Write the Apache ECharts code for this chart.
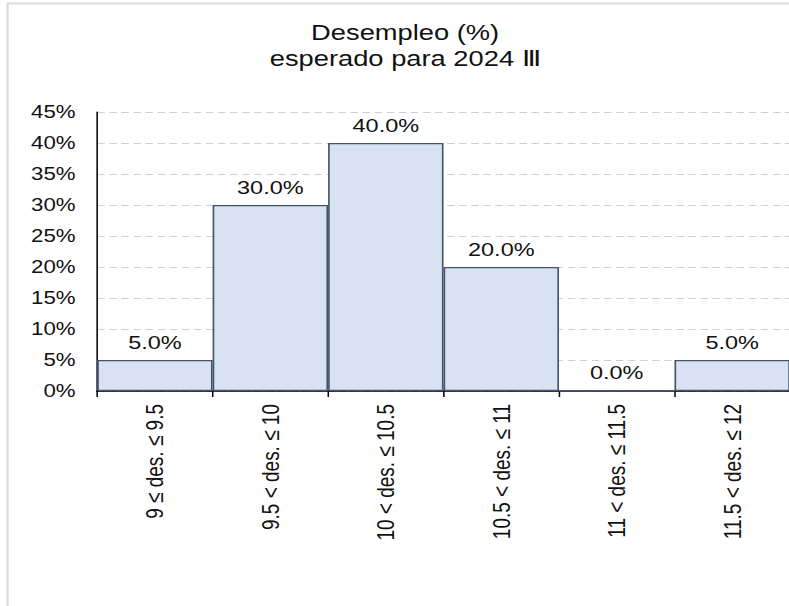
<!DOCTYPE html>
<html>
<head>
<meta charset="utf-8">
<script src="https://cdn.jsdelivr.net/npm/echarts@6/dist/echarts.min.js"></script>
<style>
html,body{margin:0;padding:0;background:#fff;overflow:hidden}
#wrap{width:789px;height:606px;overflow:hidden;position:relative}
#c{width:622px;height:606px;transform:scaleX(1.27);transform-origin:0 0;position:absolute;left:0;top:0}
</style>
</head>
<body>
<div id="wrap"><div id="c"></div></div>
<script>
const categories = ["9 ≤ des. ≤ 9.5", "9.5 < des. ≤ 10", "10 < des. ≤ 10.5", "10.5 < des. ≤ 11", "11 < des. ≤ 11.5", "11.5 < des. ≤ 12"];
const values = [5.0, 30.0, 40.0, 20.0, 0.0, 5.0];
const titleLines = ["Desempleo (%)", "esperado para 2024 Ⅲ"];
const yTickMax = 45;
const yTickStep = 5;

const chart = echarts.init(document.getElementById('c'), null, {renderer: 'svg'});
const font = 'Liberation Sans, Arial, sans-serif';
chart.setOption({
  animation: false,
  backgroundColor: '#fff',
  graphic: [
    {type: 'rect', shape: {x: 6, y: 3.5, width: 800, height: 700},
     style: {fill: 'none', stroke: '#dcdcdc', lineWidth: 1.8}, silent: true, z: 0},
    {type: 'text', x: 319, y: 33, style: {text: titleLines[0], fontFamily: font, fontSize: 21.5,
      fill: '#111', textAlign: 'center', textVerticalAlign: 'middle'}},
    {type: 'text', x: 319, y: 58.5, style: {text: titleLines[1], fontFamily: font, fontSize: 21.5,
      fill: '#111', textAlign: 'center', textVerticalAlign: 'middle'}}
  ],
  grid: {left: 76.5, right: 0, top: 112, bottom: 215, containLabel: false},
  xAxis: {
    type: 'category', data: categories,
    axisLine: {lineStyle: {color: '#000', width: 1.6}},
    axisTick: {show: true, length: 6, lineStyle: {color: '#000', width: 1.2}},
    axisLabel: {rotate: 90, fontFamily: font, fontSize: 19, color: '#111', margin: 13, interval: 0}
  },
  yAxis: {
    type: 'value', min: 0, max: yTickMax, interval: yTickStep,
    axisLine: {show: true, lineStyle: {color: '#000', width: 1.2}},
    axisTick: {show: false},
    splitLine: {lineStyle: {color: '#d0d0d0', width: 1, type: [6, 3.5]}},
    axisLabel: {formatter: v => v + '%', fontFamily: font, fontSize: 17.5, color: '#111', margin: 17}
  },
  series: [{
    type: 'bar', data: values, barWidth: '100%', barCategoryGap: 0,
    itemStyle: {color: '#d9e2f3', borderColor: '#44546a', borderWidth: 1.3},
    label: {show: true, position: 'top', distance: 8, formatter: p => p.value.toFixed(1) + '%',
      fontFamily: font, fontSize: 18.5, color: '#111'}
  }]
});
</script>
</body>
</html>
